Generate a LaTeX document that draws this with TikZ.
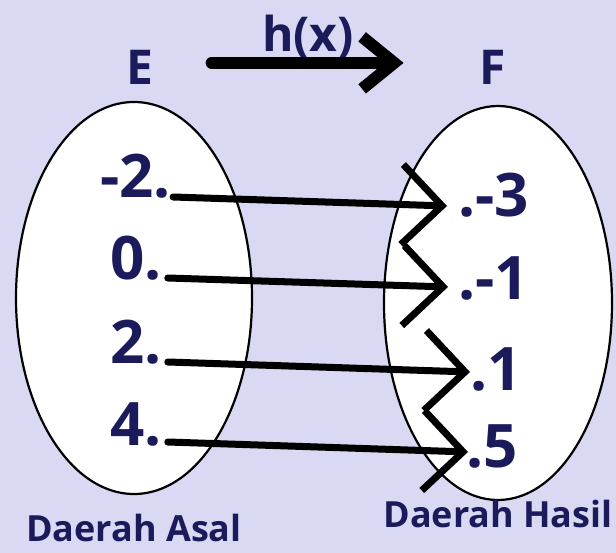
\documentclass[tikz,border=0pt]{standalone}
\usepackage{fontspec}
\setsansfont{Open Sans}
\usetikzlibrary{arrows.meta}
\definecolor{setnavy}{RGB}{27,27,92}
\definecolor{setbg}{RGB}{217,217,243}

\begin{document}
\begin{tikzpicture}[x=1pt,y=-1pt,
    setbox/.style={draw=black, line width=2.2pt, fill=white},
    val/.style={font=\sffamily\bfseries\fontsize{60}{72}\selectfont,
                text=setnavy, inner sep=0pt, anchor=base west},
    title/.style={font=\sffamily\bfseries\fontsize{48}{58}\selectfont,
                  text=setnavy, inner sep=0pt, anchor=base},
    caption/.style={font=\sffamily\bfseries\fontsize{36}{44}\selectfont,
                    text=setnavy, inner sep=0pt, anchor=base},
    maparrow/.style={line width=7pt, line cap=round,
                     -{Straight Barb[length=40pt,width=80pt]}},
    bigarrow/.style={line width=12pt, line cap=round,
                     -{Straight Barb[length=32pt,width=52pt]}}]
  % Background
  \fill[setbg] (0,0) rectangle (616,553);
  \useasboundingbox (0,0) rectangle (616,553);
  % Sets
  \draw[setbox] (134,298) ellipse [x radius=118, y radius=196];
  \draw[setbox] (498,303) ellipse [x radius=114, y radius=197];
  % Names of the sets and the rule
  \node[title] (setE) at (140,85) {E};
  \node[title] (setF) at (493,85) {F};
  \node[title] (rule) at (308,52) {h(x)};
  \draw[bigarrow] ([shift={(58,-5)}]setE.east) -- ([shift={(-76,-5)}]setF.west);
  % Domain values
  \node[val] (e1) at (100,198) {-2.};
  \node[val] (e2) at (110,280) {0.};
  \node[val] (e3) at (110,363) {2.};
  \node[val] (e4) at (110,445) {4.};
  % Range values
  \node[val] (f1) at (458,217) {.-3};
  \node[val] (f2) at (458,300) {.-1};
  \node[val] (f3) at (470,390) {.1};
  \node[val] (f4) at (466,467) {.5};
  % Mapping arrows
  \draw[maparrow] ([shift={(2,-1)}]e1.base east) -- ([shift={(-11,-11)}]f1.base west);
  \draw[maparrow] ([shift={(6,-2)}]e2.base east) -- ([shift={(-10,-13)}]f2.base west);
  \draw[maparrow] ([shift={(6,-1)}]e3.base east) -- ([shift={(0,-18)}]f3.base west);
  \draw[maparrow] ([shift={(6,-3)}]e4.base east) -- ([shift={(2,-15)}]f4.base west);
  % Captions
  \node[caption] (dom) at (134,541) {Daerah Asal};
  \node[caption] (rng) at (498,527) {Daerah Hasil};
\end{tikzpicture}
\end{document}
